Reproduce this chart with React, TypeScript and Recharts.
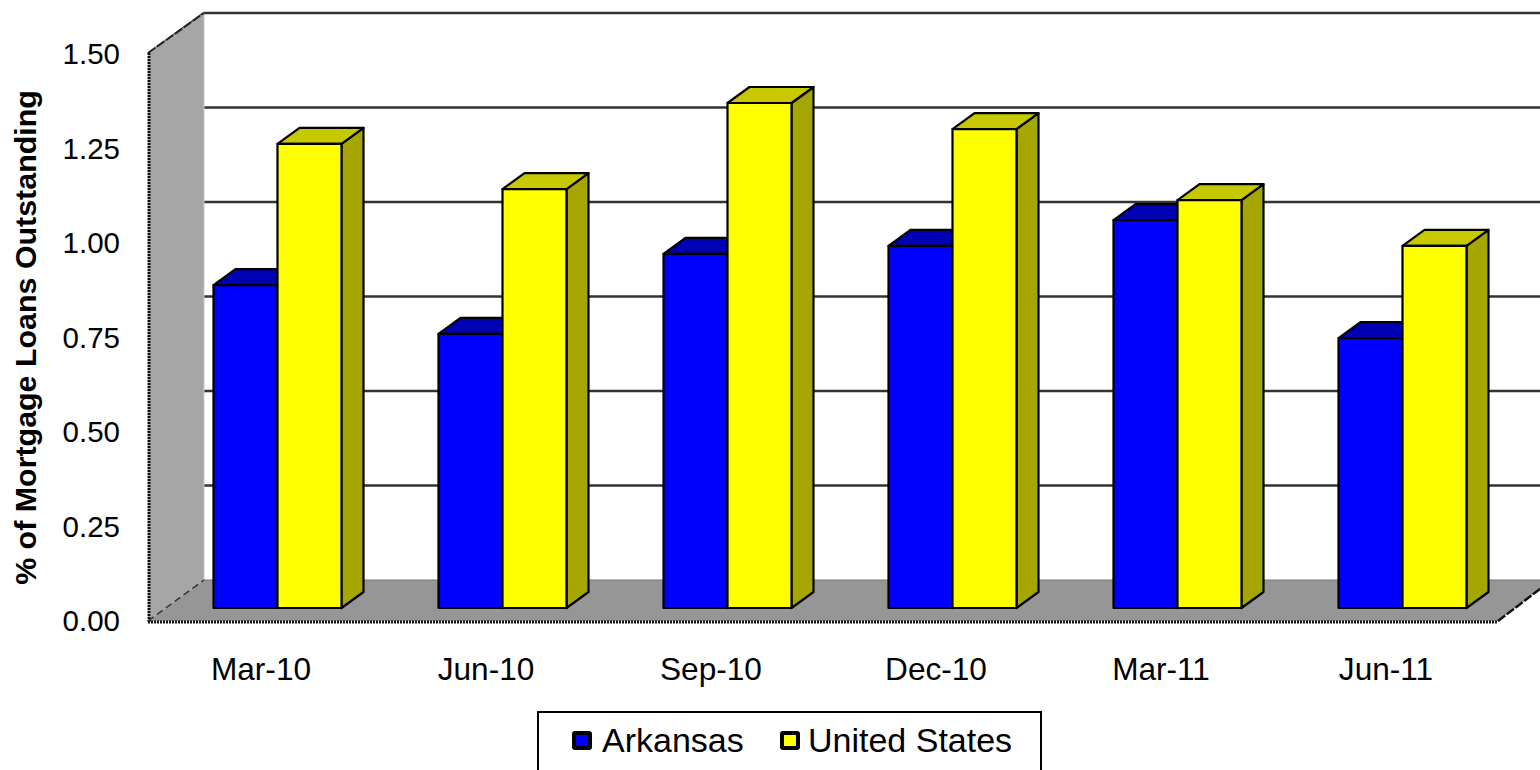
import React from "react";
import { BarChart, Bar, XAxis, YAxis, CartesianGrid, Legend } from "recharts";

const categories = ["Mar-10", "Jun-10", "Sep-10", "Dec-10", "Mar-11", "Jun-11"];
const arkansas = [0.854, 0.725, 0.937, 0.958, 1.026, 0.714];
const unitedStates = [1.228, 1.108, 1.336, 1.267, 1.079, 0.958];
const yTicks = [0, 0.25, 0.5, 0.75, 1, 1.25, 1.5];
const seriesNames = ["Arkansas", "United States"];

const data = categories.map((c, i) => ({ name: c, ar: arkansas[i], us: unitedStates[i] }));

const FONT = "'Liberation Sans', Arial, sans-serif";
const DX = 22;
const DY = 16;

const Walls = () => (
  <g>
    <polygon points="148,53 204,13 204,580 148,621" fill="#a6a6a6" />
    <polygon points="148,621 204,580 1540,580 1540,589 1498,621" fill="#969696" />
    <line x1={204} y1={13} x2={204} y2={580} stroke="#c8c8c8" strokeWidth={1} />
    <line x1={204} y1={580} x2={1540} y2={580} stroke="#777" strokeWidth={1} />
    <line x1={148} y1={621} x2={204} y2={580} stroke="#333" strokeWidth={1.5} strokeDasharray="7 4" />
    <line x1={148} y1={53} x2={204} y2={13} stroke="#222" strokeWidth={2} strokeDasharray="9 2" />
  </g>
);

const Frame = () => (
  <g>
    <line x1={149} y1={53} x2={149} y2={622} stroke="#111" strokeWidth={3} strokeDasharray="2 1" />
    <line x1={148} y1={622} x2={1498} y2={622} stroke="#111" strokeWidth={3} strokeDasharray="2 1" />
    <line x1={1498} y1={621} x2={1540} y2={589} stroke="#111" strokeWidth={2.5} strokeDasharray="9 2" />
  </g>
);

const gridShape = (props: any) => {
  const y = props.y1;
  if (Math.abs(y - 608) < 1) return <g key={props.key ?? y} />;
  return (
    <g key={props.key ?? y}>
      <line x1={204} y1={y - 28} x2={1540} y2={y - 28} stroke="#333" strokeWidth={2.4} />
      <line x1={148} y1={y + 13} x2={204} y2={y - 28} stroke="#333" strokeWidth={2.4} />
    </g>
  );
};

const box = (topFill: string, sideFill: string) => (props: any) => {
  const { x, y, width, height, fill } = props;
  return (
    <g stroke="#000" strokeWidth={2.2} strokeLinejoin="round">
      <polygon
        points={`${x + width},${y} ${x + width + DX},${y - DY} ${x + width + DX},${y + height - DY} ${x + width},${y + height}`}
        fill={sideFill}
      />
      <polygon
        points={`${x},${y} ${x + DX},${y - DY} ${x + width + DX},${y - DY} ${x + width},${y}`}
        fill={topFill}
      />
      <rect x={x} y={y} width={width} height={height} fill={fill} />
    </g>
  );
};

const XTick = (props: any) => (
  <text x={props.x - 16} y={680} textAnchor="middle" fontFamily={FONT} fontSize={31.6} fill="#000">
    {props.payload.value}
  </text>
);

const YTick = (props: any) => (
  <text x={120} y={props.y + 13 + 10} textAnchor="end" fontFamily={FONT} fontSize={29.5} fill="#000">
    {props.payload.value.toFixed(2)}
  </text>
);

const LegendBox = () => {
  const swatch = (x: number, fill: string) => (
    <div
      style={{
        position: "absolute", left: x, top: 18, width: 12, height: 11,
        background: fill, border: "4px solid #000", borderRadius: 3,
      }}
    />
  );
  const label = (x: number, text: string) => (
    <div
      style={{
        position: "absolute", left: x, top: 7, fontFamily: FONT, fontSize: 34,
        lineHeight: "40px", color: "#000", whiteSpace: "nowrap",
      }}
    >
      {text}
    </div>
  );
  return (
    <div style={{ position: "relative", width: 501, height: 76, border: "2px solid #000", background: "#fff" }}>
      {swatch(33, "#0000ff")}
      {label(63, seriesNames[0])}
      {swatch(241, "#ffff00")}
      {label(269, seriesNames[1])}
    </div>
  );
};

export default function App() {
  return (
    <div style={{ position: "fixed", left: 0, top: 0, width: 1540, height: 770, overflow: "hidden", background: "#fff" }}>
      <BarChart
        width={1540}
        height={770}
        data={data}
        margin={{ left: 163.5, right: 25.5, top: 41, bottom: 81 }}
        barSize={64}
        barGap={0}
      >
        <Walls />
        <CartesianGrid vertical={false} horizontal={gridShape} />
        <XAxis dataKey="name" axisLine={false} tickLine={false} tick={<XTick />} height={1} interval={0} />
        <YAxis
          domain={[0, 1.5]}
          ticks={yTicks}
          axisLine={false}
          tickLine={false}
          tick={<YTick />}
          width={1}
          interval={0}
        />
        <Frame />
        <Bar dataKey="ar" name={seriesNames[0]} fill="#0000ff" isAnimationActive={false} shape={box("#0000b4", "#0000a0")} />
        <Bar dataKey="us" name={seriesNames[1]} fill="#ffff00" isAnimationActive={false} shape={box("#c8c800", "#a6a600")} />
        <Legend
          content={<LegendBox />}
          wrapperStyle={{ position: "absolute", left: 537, top: 711, width: 505, height: 80, bottom: "auto", right: "auto" }}
        />
      </BarChart>
      <svg width={60} height={770} style={{ position: "absolute", left: 0, top: 0, pointerEvents: "none" }}>
        <text
          transform="translate(36,337.5) rotate(-90)"
          textAnchor="middle"
          fontFamily={FONT}
          fontWeight="bold"
          fontSize={30.4}
          fill="#000"
        >
          % of Mortgage Loans Outstanding
        </text>
      </svg>
    </div>
  );
}
